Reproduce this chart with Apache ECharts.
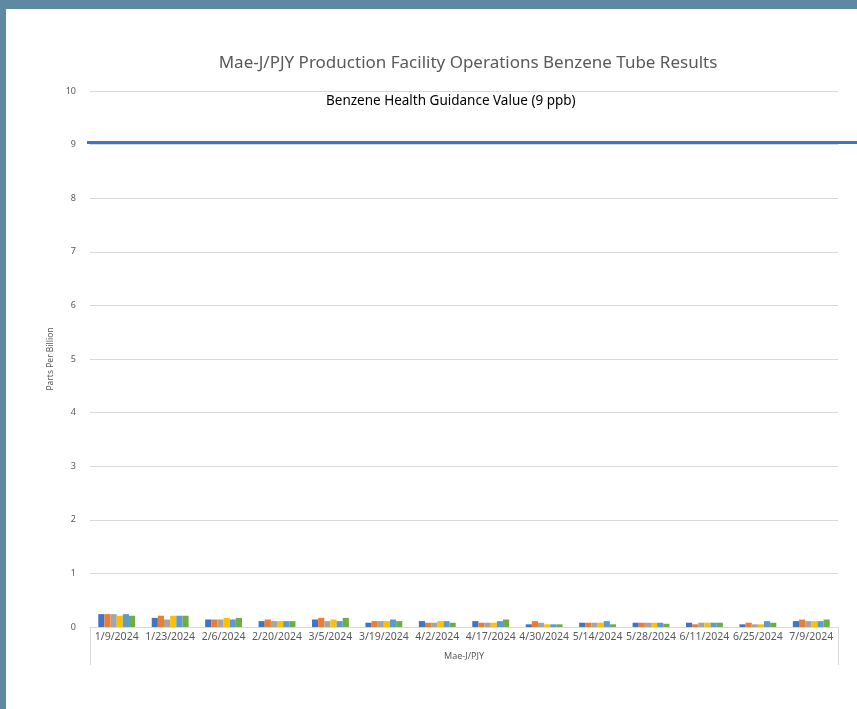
<!DOCTYPE html>
<html>
<head>
<meta charset="utf-8">
<script src="https://cdn.jsdelivr.net/npm/echarts@6/dist/echarts.min.js"></script>
<style>
  html, body { margin: 0; padding: 0; background: #5f88a1; }
  #panel { position: absolute; left: 6px; top: 9px; width: 851px; height: 700px; background: #fff; }
  #chart { position: absolute; left: 0; top: 0; width: 857px; height: 709px; }
</style>
</head>
<body>
<div id="panel"></div>
<div id="chart"></div>
<script>
// sample dates
var dates = ['1/9/2024', '1/23/2024', '2/6/2024', '2/20/2024', '3/5/2024', '3/19/2024', '4/2/2024',
  '4/17/2024', '4/30/2024', '5/14/2024', '5/28/2024', '6/11/2024', '6/25/2024', '7/9/2024']
var groupName = ['Mae-J/PJY']
// six tubes per sampling date (ppb)
var tube1 = [0.24, 0.17, 0.14, 0.11, 0.14, 0.08, 0.11, 0.11, 0.05, 0.08, 0.08, 0.08, 0.05, 0.11]
var tube2 = [0.24, 0.21, 0.14, 0.14, 0.17, 0.11, 0.08, 0.08, 0.11, 0.08, 0.08, 0.05, 0.08, 0.14]
var tube3 = [0.24, 0.14, 0.14, 0.11, 0.11, 0.11, 0.08, 0.08, 0.08, 0.08, 0.08, 0.08, 0.05, 0.11]
var tube4 = [0.21, 0.21, 0.17, 0.11, 0.14, 0.11, 0.11, 0.08, 0.05, 0.08, 0.08, 0.08, 0.05, 0.11]
var tube5 = [0.24, 0.21, 0.14, 0.11, 0.11, 0.14, 0.11, 0.11, 0.05, 0.11, 0.08, 0.08, 0.11, 0.11]
var tube6 = [0.21, 0.21, 0.17, 0.11, 0.17, 0.11, 0.08, 0.14, 0.05, 0.05, 0.06, 0.08, 0.08, 0.14]
var guidance = [9, 9]
var yTicks = [0, 1, 2, 3, 4, 5, 6, 7, 8, 9, 10]

var colorList = ['#4472c4', '#ed7d31', '#a5a5a5', '#ffc000', '#5b9bd5', '#70ad47']
var tubes = [tube1, tube2, tube3, tube4, tube5, tube6]
var font = 'Noto Sans'
var grey = '#595959'

var myChart = echarts.init(document.getElementById('chart'))
var option = {
  backgroundColor: 'transparent',
  animation: false,
  textStyle: { fontFamily: font },
  title: {
    text: 'Mae-J/PJY Production Facility Operations Benzene Tube Results',
    left: 463,
    top: 50,
    textAlign: 'center',
    textStyle: { color: grey, fontWeight: 'normal', fontSize: 17, fontFamily: font }
  },
  grid: [
    { left: 90, right: 19, top: 91, bottom: 82 },
    // wider grid only for the guidance line, which runs past the plot
    { left: 87, right: 0, top: 89, bottom: 84 }
  ],
  xAxis: [
    {
      type: 'category',
      gridIndex: 0,
      data: dates,
      axisLine: { lineStyle: { color: '#d9d9d9' } },
      axisTick: { show: false },
      axisLabel: { color: grey, fontSize: 10.5, margin: 5, interval: 0 }
    },
    {
      type: 'category',
      gridIndex: 0,
      position: 'bottom',
      data: groupName,
      axisLine: { show: false },
      axisTick: { show: true, length: 38, lineStyle: { color: '#d9d9d9' } },
      axisLabel: { color: grey, fontSize: 9, margin: 25 }
    },
    {
      type: 'value',
      gridIndex: 1,
      min: 0,
      max: 1,
      show: false
    }
  ],
  yAxis: [
    {
      type: 'value',
      gridIndex: 0,
      min: yTicks[0],
      max: yTicks[yTicks.length - 1],
      interval: 1,
      name: 'Parts Per Billion',
      nameLocation: 'middle',
      nameGap: 31,
      nameTextStyle: { color: grey, fontSize: 8.5 },
      axisLine: { show: false },
      axisTick: { show: false },
      axisLabel: { color: grey, fontSize: 9, margin: 14 },
      splitLine: { lineStyle: { color: '#d9d9d9' } }
    },
    {
      type: 'value',
      gridIndex: 1,
      min: yTicks[0],
      max: yTicks[yTicks.length - 1],
      show: false
    }
  ],
  series: tubes.map(function(d, i) {
    return {
      name: 'Tube ' + (i + 1),
      type: 'bar',
      xAxisIndex: 0,
      yAxisIndex: 0,
      data: d,
      barGap: '0%',
      barCategoryGap: '31%',
      itemStyle: { color: colorList[i] }
    }
  }).concat([
    {
      name: 'Benzene Health Guidance Value (9 ppb)',
      type: 'line',
      xAxisIndex: 2,
      yAxisIndex: 1,
      data: [[0, guidance[0]], [1, guidance[1]]],
      symbol: 'none',
      lineStyle: { color: '#4472c4', width: 3 },
      z: 5
    }
  ]),
  graphic: [
    {
      type: 'text',
      left: 326,
      top: 94,
      style: { text: 'Benzene Health Guidance Value (9 ppb)', fill: '#000', fontSize: 13.5, fontFamily: font }
    }
  ]
}
option && myChart.setOption(option)
</script>
</body>
</html>
